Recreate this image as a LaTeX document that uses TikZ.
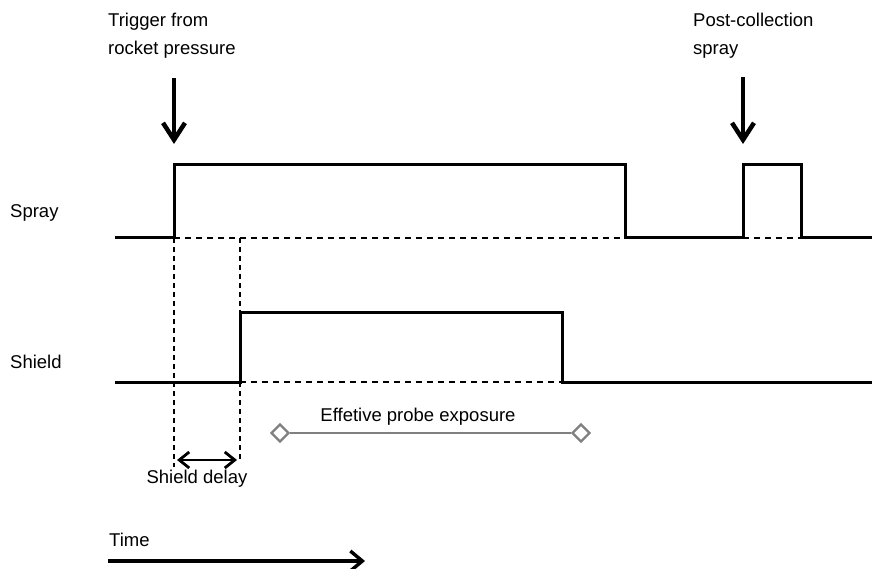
\documentclass[tikz,border=0pt]{standalone}
\usepackage{fontspec}
\setmainfont{Liberation Sans}
\usetikzlibrary{arrows.meta,shapes.geometric}

\tikzset{
  signal/.style={line width=3pt, line join=miter},
  hidden/.style={line width=2.4pt, dash pattern=on 6pt off 5pt},
  guide/.style={line width=1.1pt, dash pattern=on 5pt off 4pt},
  trigger/.style={line width=4.5pt, -{Straight Barb[length=17pt,width=22pt,line width=4.5pt]}},
  label/.style={font=\fontsize{18.5}{28}\selectfont, inner sep=0pt},
  endmark/.style={diamond, draw=gray, line width=2.4pt, fill=white, minimum size=18pt, inner sep=0pt}
}

\begin{document}
\begin{tikzpicture}[x=1pt,y=-1pt]
        \useasboundingbox (0,0) rectangle (873,569);

        % Signal labels
        \node[label,anchor=west] (sprayname) at (10,213) {Spray};
        \node[label,anchor=west] (shieldname) at (10,362) {Shield};

        % Spray signal
        \draw[hidden] (174,238) -- (625,238);
        \draw[hidden] (743,238) -- (801,238);
        \draw[signal] (115,238) -- (174,238) -- (174,165) -- (625,165) -- (625,238)
              -- (743,238) -- (743,165) -- (801,165) -- (801,238) -- (872,238);

        % Shield signal
        \draw[hidden] (240,382) -- (562,382);
        \draw[signal] (115,382) -- (240,382) -- (240,313) -- (562,313) -- (562,382) -- (872,382);

        % Triggers
        \node[label,anchor=west,align=left] (trigtext) at (108,36) {Trigger from\\rocket pressure};
        \node[label,anchor=west,align=left] (posttext) at (693,36) {Post-collection\\spray};
        \coordinate (trigtop) at (174,78);
        \coordinate (trighit) at (174,144);
        \coordinate (posttop) at (743,77);
        \coordinate (posthit) at (743,144);
        \draw[trigger] (trigtop) -- (trighit);
        \draw[trigger] (posttop) -- (posthit);

        % Shield delay
        \coordinate (delayA) at (174,238);
        \coordinate (delayB) at (240,238);
        \draw[guide] (delayA) -- ++(0,229) coordinate (delayAend);
        \draw[guide] (delayB) -- ++(0,222) coordinate (delayBend);
        \coordinate (dl) at (177,460);
        \coordinate (dr) at (237,460);
        \draw[line width=2.8pt, {Straight Barb[length=10pt,width=16pt]}-{Straight Barb[length=10pt,width=16pt]}] (dl) -- (dr);
        \node[label] (delaytext) at (197,479) {Shield delay};

        % Probe exposure
        \node[endmark] (expL) at (280,433) {};
        \node[endmark] (expR) at (581,433) {};
        \draw[gray, line width=2.4pt] (expL) -- (expR);
        \node[label] (exptext) at (418,417) {Effetive probe exposure};

        % Time axis
        \node[label,anchor=west] (timetext) at (109,540) {Time};
        \coordinate (t0) at (108,561);
        \coordinate (t1) at (365,561);
        \draw[line width=3.4pt, -{Straight Barb[length=12pt,width=20pt]}] (t0) -- (t1);
    \end{tikzpicture}
\end{document}
